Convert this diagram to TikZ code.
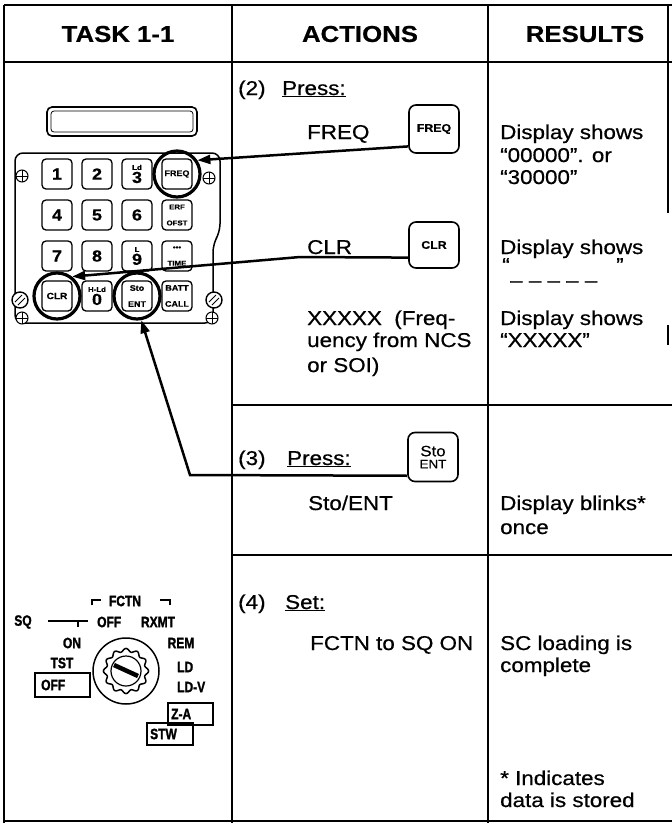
\documentclass[tikz,border=0pt]{standalone}
\usepackage{fontspec}
\setmainfont{Liberation Sans}[FakeStretch=1.12,FakeBold=0.6]
\newfontfamily\swfont{Liberation Sans Bold}[FakeStretch=0.8,FakeBold=1.5]
\usetikzlibrary{arrows.meta}
\def\plusscrew(#1,#2){\draw[fill=white,line width=1pt] (#1,#2) circle (6); \draw[line width=1pt] (#1-6,#2) -- (#1+6,#2) (#1,#2-6) -- (#1,#2+6);}
\def\slotscrew(#1,#2){\draw[fill=white,line width=1.4pt] (#1,#2) circle (8); \draw[line width=1pt] (#1-5,#2+2) -- (#1+2,#2-5) (#1-2,#2+5) -- (#1+5,#2-2);}
\def\tinylab{\fontsize{7}{8}\selectfont}
\tikzset{
  grid/.style={line width=2.6pt},
  txt/.style={anchor=base west,inner sep=0pt,font=\fontsize{20}{24}\selectfont},
  head/.style={inner sep=0pt,font=\bfseries\fontsize{23}{27}\selectfont},
  padkey/.style={draw,rounded corners=4pt,line width=1.3pt,minimum width=30pt,minimum height=30pt,inner sep=0pt,align=center,font=\bfseries\fontsize{16}{16}\selectfont},
  ring/.style={circle,draw,line width=3.2pt,minimum size=46pt,inner sep=0pt},
  actkey/.style={draw,rounded corners=7pt,line width=1.6pt,minimum width=50pt,minimum height=48pt,inner sep=0pt,align=center,font=\bfseries\fontsize{11}{13}\selectfont},
  conn/.style={line width=2.5pt},
  tip/.style={-{Triangle[length=13pt,width=9pt]}},
  sw/.style={inner sep=0pt,font=\swfont\fontsize{15}{15}\selectfont},
}

\begin{document}
\begin{tikzpicture}[x=1pt,y=-1pt]
			\useasboundingbox (0,0) rectangle (672,823);
			%%%%% TABLE %%%%%
			\draw[grid] (4,5) -- (672,5);
			\draw[grid] (4,62) -- (672,62);
			\draw[grid] (4,5) -- (4,823);
			\draw[grid] (232,5) -- (232,823);
			\draw[grid] (488,5) -- (488,823);
			\draw[grid] (232,405) -- (672,405);
			\draw[grid] (232,555) -- (672,555);
			\draw[line width=1.6pt] (4,821) -- (672,821);
			\draw[line width=1.4pt] (668,5) -- (668,213);
			\draw[line width=1.4pt] (668,325) -- (668,345);
			
			\node[head] (htask) at (118,34) {TASK 1-1};
			\node[head] (hact) at (360,34) {ACTIONS};
			\node[head] (hres) at (585,34) {RESULTS};
			
			%%%%% KEYPAD %%%%%
			\draw[line width=1.6pt,rounded corners=5pt] (47,107) rectangle (197,136);
			\draw[line width=0.8pt,rounded corners=3pt] (51,111) rectangle (193,132);
			\draw[line width=1.5pt,rounded corners=8pt] (15,323) -- (15,153) -- (220,153) -- (220,232) -- (213,244) -- (213,323) -- cycle;
			
			\node[padkey] (k1) at (57,174) {1};
			\node[padkey] (k2) at (97,174) {2};
			\node[padkey] (k3) at (137,174) {{\tinylab Ld}\\[-3pt]3};
			\node[padkey] (kfreq) at (177,174) {\fontsize{8}{8}\selectfont FREQ};
			\node[padkey] (k4) at (57,215) {4};
			\node[padkey] (k5) at (97,215) {5};
			\node[padkey] (k6) at (137,215) {6};
			\node[padkey] (kerf) at (177,215) {\tinylab ERF\\\tinylab OFST};
			\node[padkey] (k7) at (57,256) {7};
			\node[padkey] (k8) at (97,256) {8};
			\node[padkey] (k9) at (137,256) {{\tinylab L\hspace{9pt}}\\[-3pt]9};
			\node[padkey] (ktime) at (177,256) {\tinylab •••\\\tinylab TIME};
			\node[padkey] (kclr) at (57,296) {\fontsize{9}{9}\selectfont CLR};
			\node[padkey] (k0) at (97,296) {{\tinylab H-Ld}\\[-3pt]0};
			\node[padkey] (ksto) at (137,296) {\fontsize{8}{9}\selectfont Sto\\\fontsize{8}{9}\selectfont ENT};
			\node[padkey] (kbatt) at (177,296) {\fontsize{8}{9}\selectfont BATT\\\fontsize{8}{9}\selectfont CALL};
			
			\node[ring] (padfreq) at (177,174) {};
			\node[ring] (padclr) at (57,296) {};
			\node[ring] (padsto) at (137,296) {};
			
			\plusscrew(22,176)
			\plusscrew(209,178)
			\slotscrew(20,300)
			\slotscrew(214,300)
			\plusscrew(22,318)
			\plusscrew(212,318)
			
			%%%%% FCTN SWITCH %%%%%
			\draw[line width=1.2pt] (92,605) -- (92,600) -- (101,600);
			\draw[line width=1.2pt] (160,600) -- (170,600) -- (170,605);
			\node[sw] (fctn) at (125,601) {FCTN};
			\node[sw] (sq) at (23,622) {SQ};
			\draw[line width=1.2pt] (48,621) -- (88,621);
			\draw[line width=1.2pt] (78,621) -- (78,627);
			\node[sw,anchor=west] (off) at (97,622) {OFF};
			\node[sw] (rxmt) at (158,622) {RXMT};
			\node[sw] (on) at (72,643) {ON};
			\node[sw] (rem) at (181,643) {REM};
			\node[sw] (tst) at (62,663) {TST};
			\node[sw,anchor=west] (ld) at (177,667) {LD};
			\node[sw,anchor=west] (ldv) at (177,687) {LD-V};
			
			\draw[line width=1.5pt] (35,673) rectangle (90,697);
			\node[sw,anchor=west] (offbox) at (41,685) {OFF};
			
			\draw[line width=1.5pt] (126,671) circle (33);
			\draw[line width=1.5pt,shift={(126,671)}] plot[domain=0:360,samples=121,smooth] (\x:{21+1.6*cos(12*\x)});
			\draw[line width=1.2pt] (126,671) circle (15);
			\draw[line width=4.5pt] (114,665) -- (138,676);
			
			\draw[line width=1.5pt] (168,703) rectangle (213,725);
			\node[sw,anchor=west] (za) at (171,714) {Z-A};
			\draw[line width=1.5pt] (147,723) rectangle (193,745);
			\node[sw,anchor=west] (stw) at (150,734) {STW};
			
			%%%%% ACTIONS %%%%%
			\node[txt] (n2) at (238,95) {(2)};
			\node[txt] (press2) at (282,95) {\underline{Press:}};
			\node[txt] (lfreq) at (307,139) {FREQ};
			\node[actkey] (actfreq) at (434,129) {FREQ};
			\node[txt] (lclr) at (307,254) {CLR};
			\node[actkey,minimum height=46pt] (actclr) at (434,245) {CLR};
			\node[txt] (lx1) at (307,325) {XXXXX\ \ (Freq-};
			\node[txt] (lx2) at (307,347) {uency from NCS};
			\node[txt] (lx3) at (307,372) {or SOI)};
			
			\node[txt] (n3) at (238,465) {(3)};
			\node[txt] (press3) at (287,465) {\underline{Press:}};
			\node[actkey,minimum height=49pt,font=\fontsize{15}{14}\selectfont] (actsto) at (433,457) {Sto\\[-2pt]{\fontsize{12}{12}\selectfont ENT}};
			\node[txt] (lsto) at (308,510) {Sto/ENT};
			
			\node[txt] (n4) at (238,609) {(4)};
			\node[txt] (set4) at (285,609) {\underline{Set:}};
			\node[txt] (lfctn) at (310,650) {FCTN to SQ ON};
			
			%%%%% RESULTS %%%%%
			\node[txt] (r1a) at (500,139) {Display shows};
			\node[txt] (r1b) at (500,162) {“00000”. or};
			\node[txt] (r1c) at (500,184) {“30000”};
			\node[txt] (r2a) at (500,254) {Display shows};
			\node[txt] (r2b) at (502,272) {“};
			\node[txt] (r2c) at (616,272) {”};
			\node[txt] (r2d) at (510,287) {– – – – –};
			\node[txt] (r3a) at (500,325) {Display shows};
			\node[txt] (r3b) at (500,347) {“XXXXX”};
			\node[txt] (r4a) at (500,510) {Display blinks*};
			\node[txt] (r4b) at (500,534) {once};
			\node[txt] (r5a) at (500,650) {SC loading is};
			\node[txt] (r5b) at (500,672) {complete};
			\node[txt] (r6a) at (500,785) {* Indicates};
			\node[txt] (r6b) at (500,807) {data is stored};
			
			%%%%% CONNECTORS %%%%%
			\coordinate (clrbend) at (300,257);
			\coordinate (stobend) at (190,475);
			\draw[conn,tip] (actfreq.214) -- (padfreq.34);
			\draw[conn,tip] (actclr.206) -- (clrbend) -- (padclr.52);
			\draw[conn,tip] (actsto.216) -- (stobend) -- (padsto.-80);
		\end{tikzpicture}
\end{document}
